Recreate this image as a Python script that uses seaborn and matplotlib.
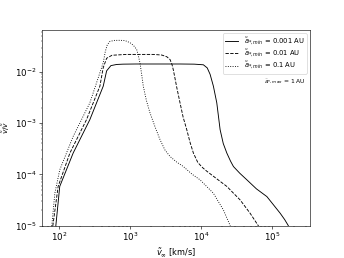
import numpy as np
import pandas as pd
import matplotlib
matplotlib.use("Agg")
import matplotlib.pyplot as plt
import seaborn as sns

labels = [r"$\tilde{a}_{*,min}$ = 0.001 AU",
          r"$\tilde{a}_{*,min}$ = 0.01 AU",
          r"$\tilde{a}_{*,min}$ = 0.1 AU"]
styles = ["-", "--", ":"]

v_001 = [90.7, 103, 159, 273, 421, 470, 540, 650, 800, 1200, 1915, 5060, 8000,
         10770, 12200, 13390, 14900, 16630, 18520, 20500, 23020, 26000, 28510,
         35000, 44050, 60000, 84200, 105000, 129700, 150000, 168000, 179000]
f_001 = [9.8e-6, 5.8e-5, 2.6e-4, 1.17e-3, 5.27e-3, 0.0105, 0.0133, 0.0140, 0.0142,
         0.0143, 0.0143, 0.0143, 0.0142, 0.0138, 0.0120, 9.0e-3, 5.27e-3, 2.49e-3,
         7.46e-4, 4.0e-4, 2.6e-4, 1.8e-4, 1.42e-4, 1.05e-4, 7.8e-5, 5.2e-5, 3.67e-5,
         2.5e-5, 1.73e-5, 1.3e-5, 1.0e-5, 8.2e-6]

v_01 = [82.3, 97.8, 143, 245, 378, 420, 470, 560, 899, 2130, 2800, 3300, 3660,
        3900, 4070, 4300, 4550, 5060, 5600, 6290, 7000, 7800, 9000, 10500, 12030,
        16000, 23020, 35400, 48980, 63500, 67800]
f_01 = [9.8e-6, 5.8e-5, 2.6e-4, 1.17e-3, 5.27e-3, 0.0120, 0.0185, 0.0212, 0.0220,
        0.0220, 0.0214, 0.0198, 0.0175, 0.0140, 0.0110, 7.5e-3, 5.0e-3, 2.49e-3,
        1.3e-3, 7.46e-4, 4.2e-4, 2.6e-4, 1.7e-4, 1.35e-4, 1.15e-4, 8.5e-5, 5.8e-5,
        3.16e-5, 1.73e-5, 1.0e-5, 8.2e-6]

v_1 = [79.6, 87.9, 103, 159, 273, 421, 450, 480, 523, 600, 722, 850, 1000, 1120,
       1242, 1320, 1383, 1460, 1540, 1700, 1915, 2250, 2650, 3100, 3660, 4500,
       5630, 7500, 9680, 14900, 20600, 25600, 26500]
f_1 = [9.8e-6, 4.27e-5, 1.22e-4, 5.5e-4, 2.49e-3, 0.0151, 0.0250, 0.0340, 0.0395,
       0.0413, 0.0415, 0.0410, 0.0374, 0.0330, 0.0276, 0.0200, 0.0151, 9.0e-3,
       5.27e-3, 2.8e-3, 1.58e-3, 8.5e-4, 4.74e-4, 3.0e-4, 2.23e-4, 1.75e-4,
       1.42e-4, 1.0e-4, 7.8e-5, 4.27e-5, 2.01e-5, 1.0e-5, 8.2e-6]

series = [(v_001, f_001), (v_01, f_01), (v_1, f_1)]

fig = plt.figure(figsize=(6.4, 4.8), dpi=53.75)
ax = fig.add_axes([42/344, 1 - 225.5/258, (310-42)/344, (225.5-30)/258])

for (v, f), lab, ls in zip(series, labels, styles):
    df = pd.DataFrame({"v": v, "f": f})
    sns.lineplot(data=df, x="v", y="f", ax=ax, color="k", linestyle=ls,
                 linewidth=1.2, label=lab, sort=False, estimator=None)

ax.set_xscale("log")
ax.set_yscale("log")
ax.set_xlim(58, 3.4e5)
ax.set_ylim(1e-5, 0.066)
ax.tick_params(labelsize=11.5)
ax.set_xlabel(r"$\tilde{v}_{\infty}$ [km/s]", fontsize=11)
ax.set_ylabel(r"$\tilde{v}/\tilde{v}$", fontsize=10)
leg = ax.legend(loc="upper right", fontsize=9, labelspacing=0.15,
                borderpad=0.35, handlelength=2.0)
ax.text(0.985, 0.735, r"$\tilde{a}_{*,max}$ = 1 AU", transform=ax.transAxes,
        ha="right", va="center", fontsize=8)

fig.savefig("out.png", dpi=53.75)
